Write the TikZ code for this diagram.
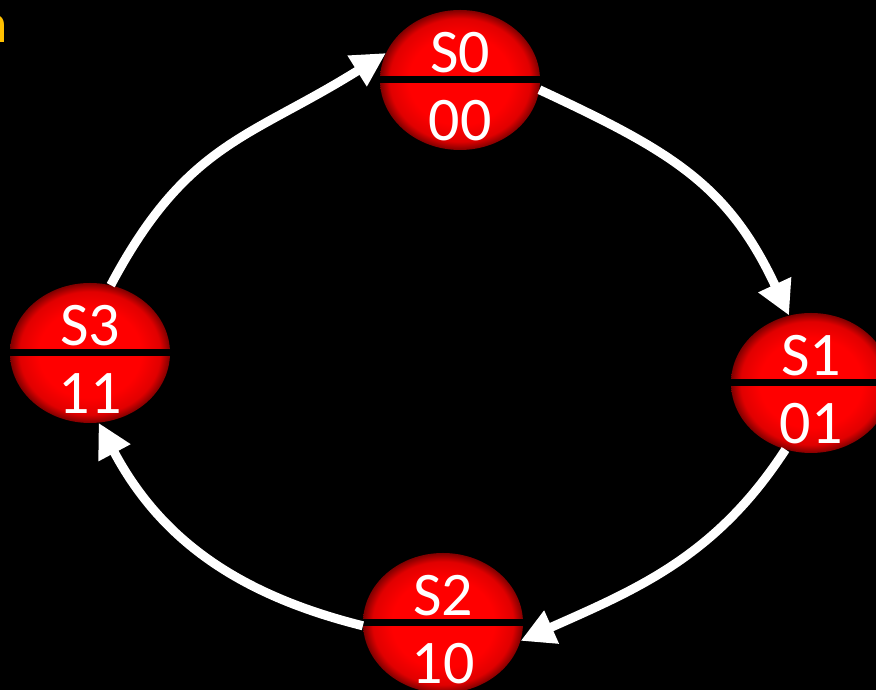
\documentclass[tikz,border=0pt]{standalone}
\usepackage{fontspec}
\setmainfont{Carlito}
\usetikzlibrary{arrows.meta,shapes.geometric}

\definecolor{titleorange}{HTML}{FFC000}
% glossy red disc: flat centre, darker rim (the path box maps to the inner 50bp)
\pgfdeclareradialshading{stateball}{\pgfpoint{0bp}{0bp}}{%
  color(0bp)=(red); color(16bp)=(red); color(22bp)=(red!88!black);
  color(25bp)=(red!50!black); color(50bp)=(red!50!black)}

\tikzset{
  state/.style={ellipse, minimum width=160pt, minimum height=140pt,
    inner sep=0pt, shade, shading=stateball, draw=none},
  divider/.style={line width=7pt, black},
  lbl/.style={text=white, font=\fontsize{62}{70}\selectfont,
    inner sep=0pt, anchor=base},
  flow/.style={white, line width=9pt, line cap=butt,
    -{Triangle[length=34pt,width=34pt]}},
}

\begin{document}
\begin{tikzpicture}[x=1pt,y=1pt]
  \fill[black] (0,0) rectangle (876,690);
  \useasboundingbox (0,0) rectangle (876,690);

  % clipped heading text at the upper left
  \node[anchor=base east, text=titleorange, inner sep=0pt,
        font=\fontsize{56}{60}\selectfont] (head) at (8,647) {n};

  % states
  \node[state] (s0) at (460,610) {};
  \node[state] (s1) at (811,307) {};
  \node[state] (s2) at (443,67) {};
  \node[state] (s3) at (90,337) {};

  \foreach \s/\name/\code in {s0/S0/00, s1/S1/01, s2/S2/10, s3/S3/11} {
    \draw[divider] (\s.west) -- (\s.east);
    \node[lbl] (\s name) at ([yshift=7pt]\s.center) {\name};
    \node[lbl] (\s code) at ([yshift=-61pt]\s.center) {\code};
  }

  % transitions
  \draw[flow] (s3.73)  to[out=62,  in=212, looseness=1.15] (s0.160);
  \draw[flow] (s0.-7)  to[out=-25, in=115, looseness=1.1] (s1.108);
  \draw[flow] (s1.249) to[out=237, in=24]  (s2.-13);
  \draw[flow] (s2.182) to[out=166, in=298] (s3.-83);
\end{tikzpicture}
\end{document}
